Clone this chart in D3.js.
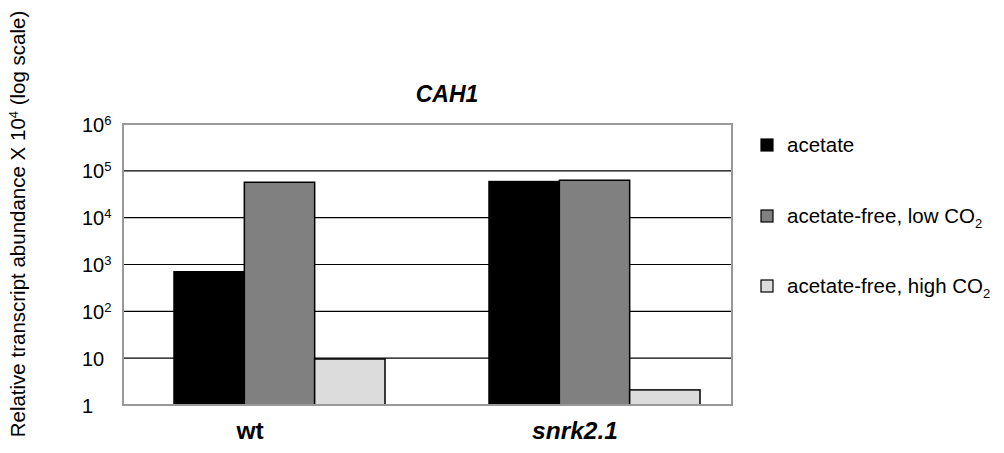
<!DOCTYPE html>
<html>
<head>
<meta charset="utf-8">
<script src="https://cdn.jsdelivr.net/npm/d3@7"></script>
<style>
  body { margin: 0; background: #fff; }
  svg { display: block; font-family: Arial, "Liberation Sans", sans-serif; }
</style>
</head>
<body>
<svg id="chart" width="1004" height="453"></svg>
<script>
// ---- data ----
const categories = ["wt", "snrk2.1"];
const seriesNames = ["acetate", "acetate-free, low CO2", "acetate-free, high CO2"];
const acetate = [700, 59000];
const lowCO2 = [57000, 63000];
const highCO2 = [9.6, 2.1];
const tickValues = [1, 10, 100, 1000, 10000, 100000, 1000000];
const tickExponents = ["", "", "2", "3", "4", "5", "6"];
const tickBases = ["1", "10", "10", "10", "10", "10", "10"];
const seriesColors = ["#000000", "#808080", "#dcdcdc"];
const title = "CAH1";

const seriesValues = [acetate, lowCO2, highCO2];

const svg = d3.select("#chart");
const plot = { left: 123, right: 732, top: 124, bottom: 405 };

const y = d3.scaleLog().domain([1, 1e6]).range([plot.bottom, plot.top]);
const x0 = d3.scaleBand().domain(categories).range([122, 752]).padding(0);
const x1 = d3.scaleBand().domain(seriesNames).range([52, 263]).padding(0);
const labelX = d3.scalePoint().domain(categories).range([250, 575]);

// gridlines
svg.append("g").selectAll("line")
  .data(tickValues.slice(1, -1))
  .join("line")
  .attr("x1", plot.left).attr("x2", plot.right)
  .attr("y1", d => y(d)).attr("y2", d => y(d))
  .attr("stroke", "#000").attr("stroke-width", 1.2);

// bars
const groups = svg.append("g").selectAll("g")
  .data(categories)
  .join("g")
  .attr("transform", d => `translate(${x0(d)},0)`);

groups.selectAll("rect")
  .data((c, ci) => seriesNames.map((s, si) => ({ s, si, v: seriesValues[si][ci] })))
  .join("rect")
  .attr("x", d => x1(d.s))
  .attr("width", x1.bandwidth())
  .attr("y", d => y(d.v))
  .attr("height", d => plot.bottom - y(d.v))
  .attr("fill", d => seriesColors[d.si])
  .attr("stroke", "#000")
  .attr("stroke-width", 1.5);

// plot frame
svg.append("rect")
  .attr("x", plot.left).attr("y", plot.top)
  .attr("width", plot.right - plot.left).attr("height", plot.bottom - plot.top)
  .attr("fill", "none").attr("stroke", "#999").attr("stroke-width", 2);

// y axis tick labels
const yAxis = d3.axisLeft(y).tickValues(tickValues).tickSize(0).tickFormat("");
const yg = svg.append("g").attr("transform", `translate(${plot.left},0)`).call(yAxis);
yg.select(".domain").remove();
yg.selectAll(".tick").each(function (d, i) {
  const t = d3.select(this).append("text")
    .attr("x", 82 - plot.left)
    .attr("y", 7)
    .attr("text-anchor", "start")
    .attr("fill", "#000")
    .style("font-size", "20px");
  t.append("tspan").text(tickBases[i]);
  if (tickExponents[i]) {
    t.append("tspan").attr("dy", -7).style("font-size", "13px").text(tickExponents[i]);
  }
});

// y axis title
const yt = svg.append("text")
  .attr("transform", "translate(25,224) rotate(-90)")
  .attr("text-anchor", "middle")
  .style("font-size", "20.5px")
  .attr("fill", "#000");
yt.append("tspan").text("Relative transcript abundance X 10");
yt.append("tspan").attr("dy", -7).style("font-size", "13px").text("4");
yt.append("tspan").attr("dy", 7).text(" (log scale)");

// x category labels
svg.append("g").selectAll("text")
  .data(categories)
  .join("text")
  .attr("x", d => labelX(d))
  .attr("y", 439)
  .attr("text-anchor", "middle")
  .style("font-size", "24.5px")
  .style("font-weight", "bold")
  .style("font-style", (d, i) => i === 0 ? "normal" : "italic")
  .text(d => d);

// title
svg.append("text")
  .attr("x", 447).attr("y", 102)
  .attr("text-anchor", "middle")
  .style("font-size", "23px")
  .style("font-weight", "bold")
  .style("font-style", "italic")
  .text(title);

// legend
const legendY = [145, 216, 286];
const lg = svg.append("g").selectAll("g")
  .data(seriesNames)
  .join("g")
  .attr("transform", (d, i) => `translate(761,${legendY[i]})`);
lg.append("rect")
  .attr("x", 0).attr("y", -6).attr("width", 12).attr("height", 12)
  .attr("fill", (d, i) => seriesColors[i])
  .attr("stroke", "#000").attr("stroke-width", 1.2);
lg.each(function (d) {
  const t = d3.select(this).append("text")
    .attr("x", 26).attr("y", 7)
    .style("font-size", "20.5px").attr("fill", "#000");
  if (d.endsWith("CO2")) {
    t.append("tspan").text(d.slice(0, -1));
    t.append("tspan").attr("dy", 5).style("font-size", "13px").text("2");
  } else {
    t.text(d);
  }
});
</script>
</body>
</html>
